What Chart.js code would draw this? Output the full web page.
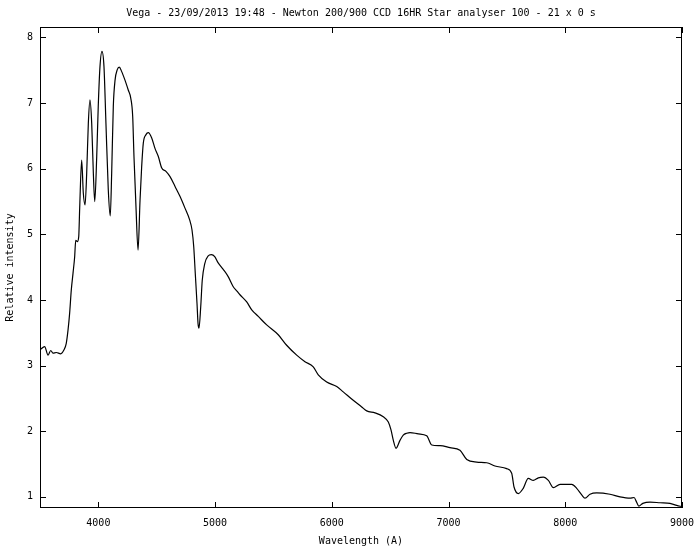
<!DOCTYPE html>
<html>
<head>
<meta charset="utf-8">
<script src="https://cdn.jsdelivr.net/npm/chart.js@4/dist/chart.umd.min.js"></script>
<style>
  html, body { margin: 0; padding: 0; background: #fff; }
  #wrap { width: 700px; height: 550px; }
</style>
</head>
<body>
<div id="wrap"><canvas id="spec"></canvas></div>
<script>
// spectrum: wavelength (A) and relative intensity
const wavelength = [
  3500, 3540, 3569, 3592, 3611, 3640, 3677, 3706, 3725, 3740,
  3754, 3768, 3783, 3797, 3806, 3820, 3832, 3840, 3857, 3871,
  3886, 3900, 3914, 3928, 3943, 3957, 3969, 3986, 3999, 4014,
  4031, 4048, 4065, 4085, 4102, 4114, 4128, 4143, 4162, 4179,
  4200, 4228, 4256, 4277, 4294, 4305, 4322, 4340, 4357, 4371,
  4385, 4408, 4428, 4457, 4485, 4513, 4543, 4579, 4614, 4657,
  4699, 4742, 4782, 4802, 4817, 4830, 4845, 4854, 4862, 4877,
  4890, 4911, 4939, 4968, 4997, 5025, 5068, 5111, 5153, 5190,
  5213, 5271, 5314, 5370, 5442, 5541, 5613, 5699, 5770, 5841,
  5884, 5956, 6042, 6098, 6170, 6256, 6299, 6370, 6441, 6484,
  6507, 6527, 6550, 6584, 6612, 6642, 6670, 6741, 6813, 6856,
  6927, 7012, 7098, 7156, 7241, 7327, 7398, 7498, 7541, 7561,
  7598, 7640, 7683, 7726, 7769, 7812, 7855, 7898, 7955, 8055,
  8098, 8141, 8169, 8212, 8269, 8383, 8469, 8555, 8589, 8611,
  8630, 8664, 8726, 8812, 8897, 8955, 9000
];
const intensity = [
  3.24, 3.29, 3.16, 3.23, 3.19, 3.20, 3.18, 3.24, 3.34, 3.54,
  3.80, 4.15, 4.41, 4.66, 4.91, 4.89, 4.97, 5.40, 6.13, 5.63,
  5.45, 5.93, 6.69, 7.05, 6.69, 5.93, 5.50, 6.19, 6.95, 7.56,
  7.79, 7.56, 6.69, 5.68, 5.28, 5.93, 6.95, 7.35, 7.51, 7.55,
  7.48, 7.35, 7.20, 7.08, 6.80, 6.19, 5.43, 4.76, 5.52, 6.03,
  6.39, 6.52, 6.55, 6.47, 6.31, 6.19, 6.01, 5.96, 5.88, 5.73,
  5.58, 5.40, 5.22, 5.07, 4.81, 4.41, 3.95, 3.64, 3.57, 3.90,
  4.30, 4.55, 4.67, 4.69, 4.66, 4.57, 4.47, 4.36, 4.21, 4.13,
  4.08, 3.97, 3.85, 3.75, 3.62, 3.47, 3.31, 3.16, 3.06, 2.98,
  2.86, 2.75, 2.68, 2.60, 2.49, 2.37, 2.31, 2.28, 2.22, 2.14,
  2.02, 1.86, 1.74, 1.86, 1.94, 1.97, 1.98, 1.96, 1.93, 1.79,
  1.78, 1.75, 1.71, 1.57, 1.53, 1.52, 1.47, 1.43, 1.36, 1.15,
  1.05, 1.13, 1.28, 1.25, 1.29, 1.30, 1.25, 1.14, 1.19, 1.19,
  1.13, 1.03, 0.98, 1.04, 1.06, 1.04, 1.00, 0.98, 0.99, 0.92,
  0.86, 0.90, 0.92, 0.91, 0.90, 0.87, 0.85
];
const xTicks = [4000, 5000, 6000, 7000, 8000, 9000];
const yTicks = [1, 2, 3, 4, 5, 6, 7, 8];

const mono = "'DejaVu Sans Mono', 'Liberation Mono', monospace";

// gnuplot style frame: box round the plot and ticks pointing inwards on all four sides
const framePlugin = {
  id: 'frame',
  afterDraw(c) {
    const ctx = c.ctx, a = c.chartArea, sx = c.scales.x, sy = c.scales.y;
    const t = 6;
    ctx.save();
    ctx.strokeStyle = '#000';
    ctx.lineWidth = 1;
    ctx.strokeRect(a.left + 0.5, a.top + 0.5, a.right - a.left - 1, a.bottom - a.top - 1);
    ctx.beginPath();
    xTicks.forEach(v => {
      const px = Math.round(sx.getPixelForValue(v)) + 0.5;
      ctx.moveTo(px, a.bottom); ctx.lineTo(px, a.bottom - t);
      ctx.moveTo(px, a.top); ctx.lineTo(px, a.top + t);
    });
    yTicks.forEach(v => {
      const py = Math.round(sy.getPixelForValue(v)) + 0.5;
      ctx.moveTo(a.left, py); ctx.lineTo(a.left + t, py);
      ctx.moveTo(a.right, py); ctx.lineTo(a.right - t, py);
    });
    ctx.stroke();
    ctx.restore();
  }
};

new Chart(document.getElementById('spec'), {
  type: 'line',
  data: {
    datasets: [{
      data: wavelength.map((w, i) => ({ x: w, y: intensity[i] })),
      borderColor: '#000',
      borderWidth: 1.2,
      pointRadius: 0,
      cubicInterpolationMode: 'monotone',
      fill: false
    }]
  },
  options: {
    responsive: true,
    maintainAspectRatio: false,
    animation: false,
    layout: { padding: { left: 0, right: 18, top: 0, bottom: 0 } },
    plugins: {
      legend: { display: false },
      tooltip: { enabled: false },
      title: {
        display: true,
        fullSize: false,
        text: 'Vega - 23/09/2013 19:48 - Newton 200/900 CCD 16HR Star analyser 100 - 21 x 0 s',
        color: '#000',
        font: { family: mono, size: 10, weight: 'normal' },
        padding: { top: 7, bottom: 8 }
      }
    },
    scales: {
      x: {
        type: 'linear',
        min: 3500,
        max: 9000,
        afterBuildTicks: s => { s.ticks = xTicks.map(v => ({ value: v })); },
        afterFit: s => { s.height = 42; s.paddingLeft = 0; s.paddingRight = 0; },
        grid: { display: false, drawTicks: false },
        border: { display: false },
        ticks: {
          color: '#000', padding: 9, maxRotation: 0, font: { family: mono, size: 10 },
          callback: v => String(v)
        },
        title: {
          display: true, text: 'Wavelength (A)', color: '#000',
          font: { family: mono, size: 10 }, padding: { top: 0, bottom: 3 }
        }
      },
      y: {
        min: 0.83,
        max: 8.16,
        afterBuildTicks: s => { s.ticks = yTicks.map(v => ({ value: v })); },
        afterFit: s => { s.width = 40; },
        grid: { display: false, drawTicks: false },
        border: { display: false },
        ticks: { color: '#000', padding: 7, font: { family: mono, size: 10 } },
        title: {
          display: true, text: 'Relative intensity', color: '#000',
          font: { family: mono, size: 10 }, padding: { top: 4, bottom: 0 }
        }
      }
    }
  },
  plugins: [framePlugin]
});
</script>
</body>
</html>
